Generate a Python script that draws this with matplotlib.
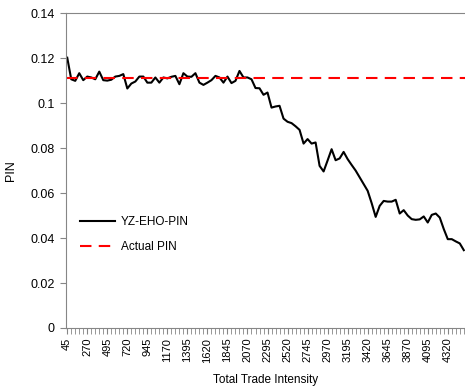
import matplotlib
matplotlib.use("Agg")
import matplotlib.pyplot as plt
import numpy as np

# trade intensity categories (45 .. 4500, one every 45)
intensity = list(range(45, 4501, 45))

yz_eho_pin = [
    0.1202, 0.1106, 0.1099, 0.1133, 0.1102, 0.1118, 0.1114, 0.1106, 0.1140, 0.1102,
    0.1100, 0.1104, 0.1118, 0.1121, 0.1129, 0.1065, 0.1087, 0.1096, 0.1118, 0.1118,
    0.1091, 0.1091, 0.1114, 0.1091, 0.1114, 0.1110, 0.1117, 0.1121, 0.1084, 0.1133,
    0.1118, 0.1117, 0.1133, 0.1091, 0.1081, 0.1091, 0.1102, 0.1121, 0.1114, 0.1091,
    0.1118, 0.1089, 0.1099, 0.1143, 0.1114, 0.1114, 0.1106, 0.1067, 0.1066, 0.1037,
    0.1047, 0.0980, 0.0985, 0.0988, 0.0931, 0.0917, 0.0911, 0.0897, 0.0881, 0.0820,
    0.0840, 0.0820, 0.0825, 0.0721, 0.0696, 0.0745, 0.0795, 0.0746, 0.0754, 0.0783,
    0.0751, 0.0725, 0.0700, 0.0670, 0.0640, 0.0610, 0.0555, 0.0494, 0.0543, 0.0565,
    0.0562, 0.0562, 0.0570, 0.0509, 0.0524, 0.0500, 0.0484, 0.0481, 0.0483, 0.0496,
    0.0469, 0.0503, 0.0509, 0.0491, 0.0440, 0.0395, 0.0395, 0.0385, 0.0376, 0.0346,
]
actual_pin = 0.111

plt.rcParams['font.family'] = ['Liberation Sans', 'DejaVu Sans']

fig = plt.figure(figsize=(4.65, 3.87), dpi=100)
ax = fig.add_axes([0.142, 0.1525, 0.858, 0.8135])

pos = np.arange(len(intensity))
ax.plot(pos, yz_eho_pin, color='black', linewidth=1.5, label='YZ-EHO-PIN')
ax.axhline(actual_pin, color='#ff0000', linewidth=1.5, linestyle=(0, (5.5, 3.5)),
           label='Actual PIN')

ax.set_xlim(-0.3, len(intensity) - 0.7)
ax.set_ylim(0, 0.14)
ax.set_yticks(np.arange(0, 0.141, 0.02))
ax.set_yticklabels(['0', '0.02', '0.04', '0.06', '0.08', '0.1', '0.12', '0.14'],
                   fontsize=9)

ax.set_xticks(pos[::5])
ax.set_xticklabels([str(v) for v in intensity[::5]], rotation=90, fontsize=8)
ax.set_xticks(pos, minor=True)
ax.tick_params(axis='x', which='both', length=4, color='#868686', pad=3)
ax.tick_params(axis='y', length=4, color='#868686', pad=4)

ax.spines['right'].set_visible(False)
for side in ['left', 'bottom', 'top']:
    ax.spines[side].set_color('#868686')

ax.set_xlabel('Total Trade Intensity', fontsize=8.5, labelpad=8)
ax.set_ylabel('PIN', fontsize=9, labelpad=10)

ax.legend(loc='center left', bbox_to_anchor=(0.008, 0.296), frameon=False,
          fontsize=8.5, handlelength=3.0, handletextpad=0.5, labelspacing=1.1)

fig.savefig('out.png', dpi=100)
